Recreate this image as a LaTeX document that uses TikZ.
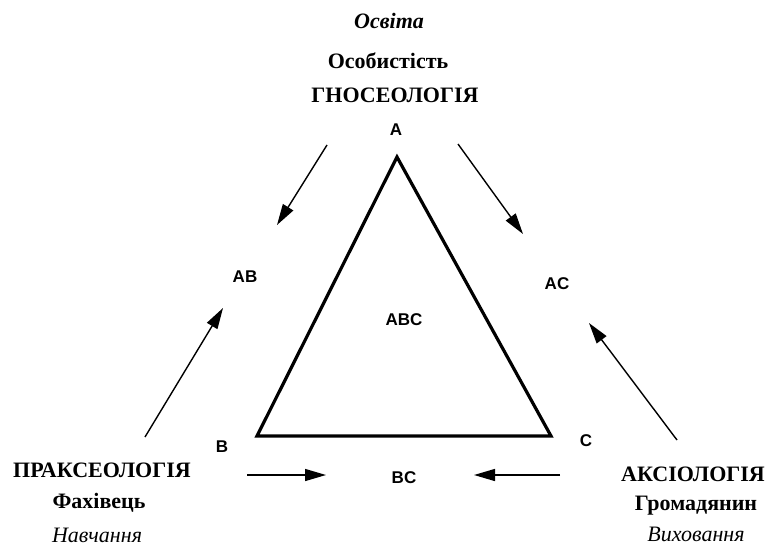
\documentclass[tikz,border=0pt]{standalone}
\usepackage{fontspec}
\setmainfont{Liberation Serif}
\setsansfont{Liberation Sans}
\usepackage{tikz}
\usetikzlibrary{arrows.meta}

\begin{document}
\begin{tikzpicture}[x=1pt,y=-1pt,
  lbl/.style={anchor=base,font=\sffamily\bfseries\fontsize{17}{17}\selectfont},
  term/.style={anchor=base,font=\bfseries\fontsize{22}{22}\selectfont},
  termit/.style={anchor=base,font=\itshape\fontsize{22}{22}\selectfont},
  arr/.style={line width=1.4pt,-{Triangle[length=21pt,width=12pt]}}]
\useasboundingbox (0,0) rectangle (768,546);

% Set up the triangle
\coordinate (A) at (397,157);
\coordinate (B) at (257,436);
\coordinate (C) at (551,436);

% Draw the triangle
\draw[line width=3.2pt, line join=miter] (A) -- (B) -- (C) -- cycle;

% Arrow ends
\coordinate (a1) at (327,145); \coordinate (a2) at (277,225);
\coordinate (b1) at (458,144); \coordinate (b2) at (523,234);
\coordinate (c1) at (145,437); \coordinate (c2) at (223,308);
\coordinate (d1) at (677,440); \coordinate (d2) at (589,323);
\coordinate (e1) at (247,475); \coordinate (e2) at (326,475);
\coordinate (f1) at (560,475); \coordinate (f2) at (474,475);

% Arrows
\draw[arr] (a1) -- (a2);
\draw[arr] (b1) -- (b2);
\draw[arr] (c1) -- (c2);
\draw[arr] (d1) -- (d2);
\draw[arr] (e1) -- (e2);
\draw[arr] (f1) -- (f2);

% Labels
\node[lbl] (la) at (396,135) {A};
\node[lbl] (lb) at (222,452) {B};
\node[lbl] (lc) at (586,446) {C};
\node[lbl] (lab) at (245,282) {AB};
\node[lbl] (lac) at (557,289) {AC};
\node[lbl] (lbc) at (404,483) {BC};
\node[lbl] (labc) at (404,325) {ABC};

% Top
\node[term] (osvita) at (389,28) {\itshape Освіта};
\node[term] (osob) at (388,68) {Особистість};
\node[term] (gnos) at (395,102) {ГНОСЕОЛОГІЯ};

% Left
\node[term] (prak) at (102,477) {ПРАКСЕОЛОГІЯ};
\node[term] (fakh) at (99,508) {Фахівець};
\node[termit] (navch) at (97,542) {Навчання};

% Right
\node[term] (aks) at (693,481) {АКСІОЛОГІЯ};
\node[term] (grom) at (696,510) {Громадянин};
\node[termit] (vykh) at (696,541) {Виховання};
\end{tikzpicture}
\end{document}
